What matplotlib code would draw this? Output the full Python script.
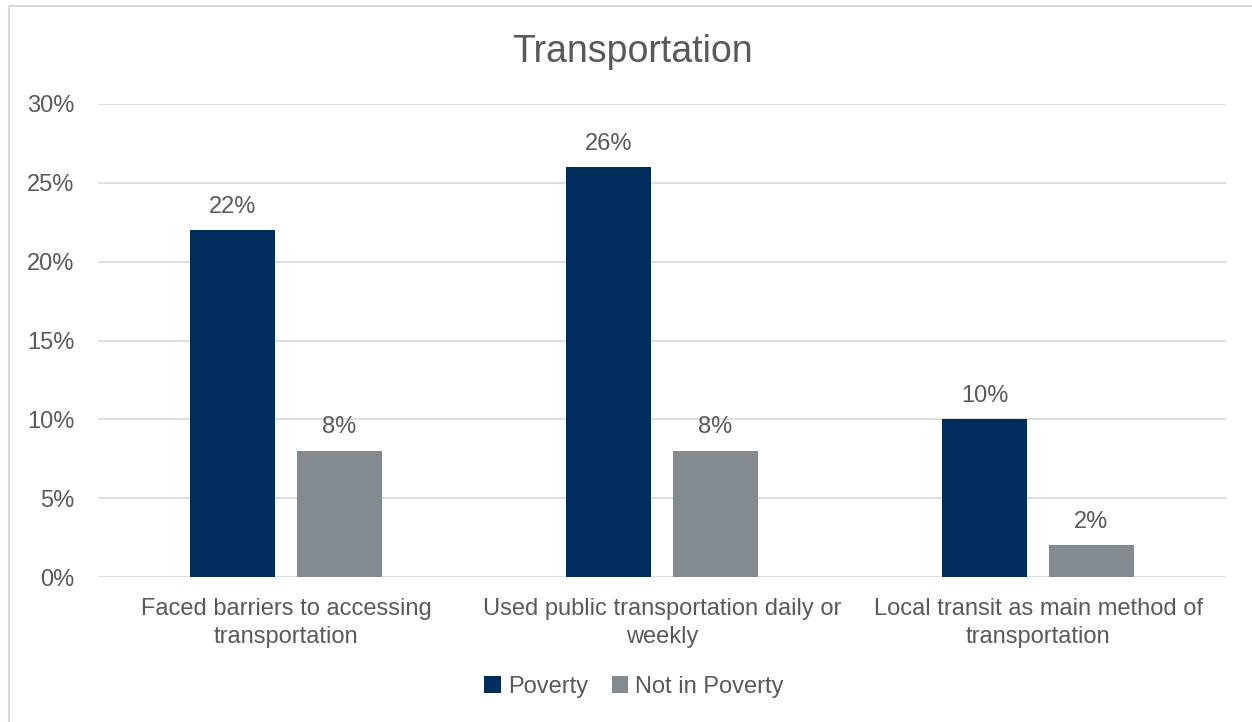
import matplotlib
matplotlib.use("Agg")
import matplotlib.pyplot as plt
from matplotlib.patches import Rectangle
import numpy as np

categories = ["Faced barriers to accessing\ntransportation",
              "Used public transportation daily or\nweekly",
              "Local transit as main method of\ntransportation"]
series_names = ["Poverty", "Not in Poverty"]
poverty = [22, 26, 10]
not_in_poverty = [8, 8, 2]
ytick_values = [0, 5, 10, 15, 20, 25, 30]
ytick_labels = ["0%", "5%", "10%", "15%", "20%", "25%", "30%"]

navy = "#002D5C"
grey = "#848B90"
text_col = "#595959"
grid_col = "#D9D9D9"
fs = 17

plt.rcParams["font.family"] = ["Liberation Sans", "DejaVu Sans"]

W, H = 1252, 722
fig = plt.figure(figsize=(W / 100, H / 100), dpi=100)

# outer chart frame (only left and top edges fall inside the canvas)
fig.patches.append(Rectangle((9 / W, -0.5), 1.5, 1.5 - 6 / H, transform=fig.transFigure,
                             fill=False, edgecolor=grid_col, linewidth=1.5))

ax = fig.add_axes([98 / W, 1 - 577 / H, (1226 - 98) / W, (577 - 104) / H])
x = np.arange(len(categories))
bw = 0.224
off = 0.142
b1 = ax.bar(x - off, poverty, bw, color=navy, label=series_names[0], zorder=3)
b2 = ax.bar(x + off, not_in_poverty, bw, color=grey, label=series_names[1], zorder=3)

for bars, vals in ((b1, poverty), (b2, not_in_poverty)):
    for rect, v in zip(bars, vals):
        ax.annotate(f"{v}%", (rect.get_x() + rect.get_width() / 2, v),
                    xytext=(0, 9), textcoords="offset points",
                    ha="center", va="bottom", fontsize=fs, color=text_col)

ax.set_xlim(-0.5, 2.5)
ax.set_ylim(0, 30)
ax.set_yticks(ytick_values)
ax.set_yticklabels(ytick_labels, fontsize=fs, color=text_col)
ax.set_xticks(x)
ax.set_xticklabels(categories, fontsize=fs, color=text_col, linespacing=1.35)
ax.tick_params(axis="both", length=0)
ax.tick_params(axis="y", pad=17)
ax.tick_params(axis="x", pad=15)
ax.grid(axis="y", color=grid_col, linewidth=1.2, zorder=0)
for s in ax.spines.values():
    s.set_visible(False)

fig.text((513 + 752) / 2 / W, 1 - 52 / H, "Transportation", ha="center", va="center",
         fontsize=27, color=text_col)

fig.legend(handles=[b1, b2], labels=series_names, loc="center",
           bbox_to_anchor=(634 / W, 1 - 687 / H), ncol=2, frameon=False,
           fontsize=fs, labelcolor=text_col, handlelength=0.7, handleheight=0.7,
           handletextpad=0.3, columnspacing=1.0)

fig.savefig("out.png", dpi=100)
